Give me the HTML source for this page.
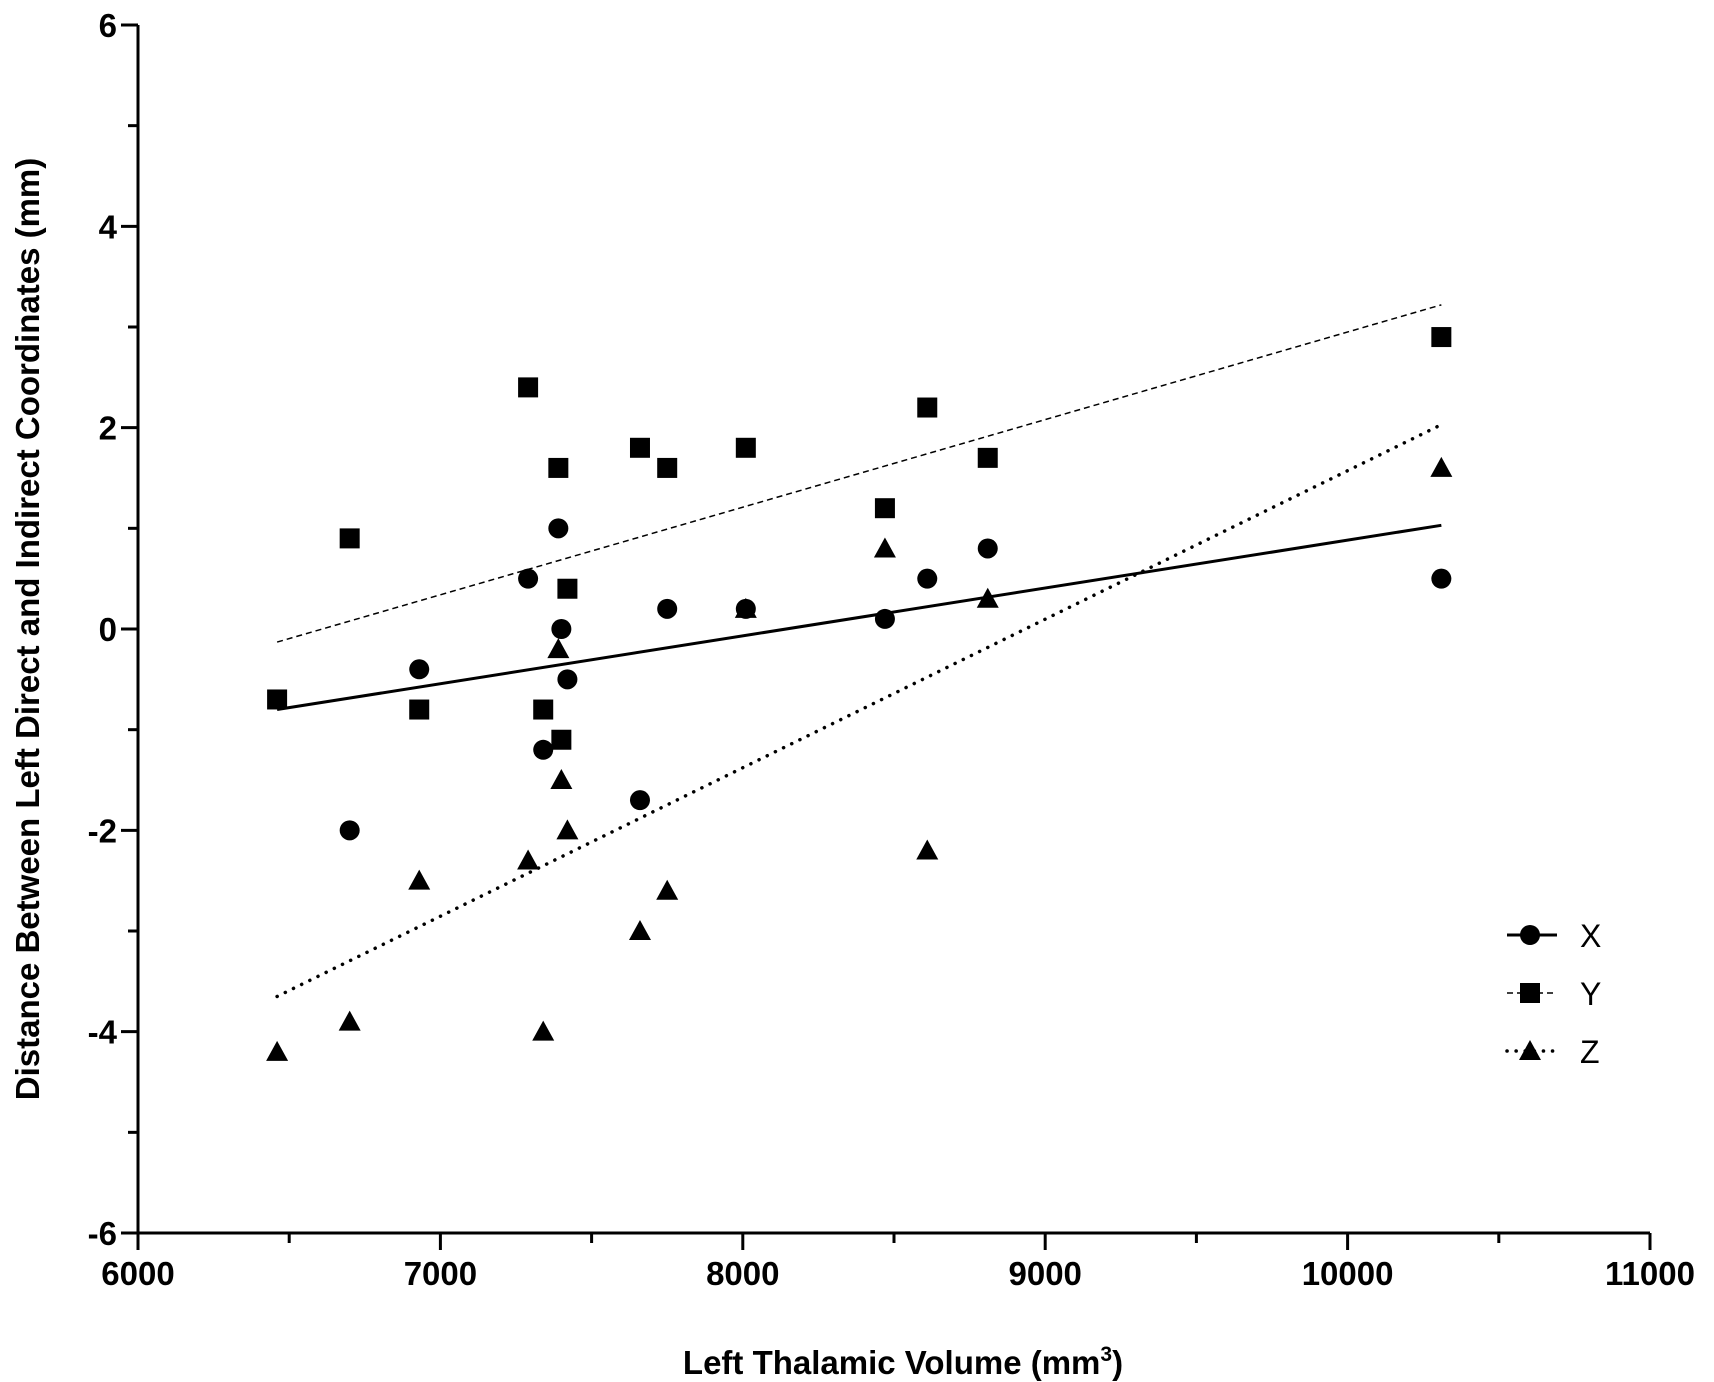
<!DOCTYPE html>
<html><head><meta charset="utf-8"><style>
html,body{margin:0;padding:0;background:#fff;}
svg{display:block;font-family:"Liberation Sans",Arial,sans-serif;font-weight:bold;}
</style></head><body>
<svg id="s" width="1714" height="1382" viewBox="0 0 1714 1382" xmlns="http://www.w3.org/2000/svg">
<text x="903" y="1374" font-size="33" text-anchor="middle">Left Thalamic Volume (mm<tspan font-size="21" dy="-13">3</tspan><tspan dy="13">)</tspan></text>
<text transform="translate(39,629) rotate(-90)" font-size="33" text-anchor="middle">Distance Between Left Direct and Indirect Coordinates (mm)</text>
</svg>
<script>
const s=document.getElementById('s');const NS='http://www.w3.org/2000/svg';
function X(v){return 138+(v-6000)*302.4/1000;}
function Y(v){return 629-v*100.67;}
function el(t,a,txt){const e=document.createElementNS(NS,t);for(const k in a)e.setAttribute(k,a[k]);if(txt!==undefined)e.textContent=txt;s.appendChild(e);return e;}
el('line',{x1:138,y1:Y(6),x2:138,y2:1235,stroke:'#000','stroke-width':3});
el('line',{x1:136,y1:1233,x2:1650,y2:1233,stroke:'#000','stroke-width':3});
for(let v=-6;v<=6;v++){const maj=v%2===0;el('line',{x1:maj?121:128,y1:Y(v),x2:138,y2:Y(v),stroke:'#000','stroke-width':3});
 if(maj)el('text',{x:117,y:Y(v)+12,'font-size':33,'text-anchor':'end'},String(v));}
for(let v=6000;v<=11000;v+=500){const maj=v%1000===0;el('line',{x1:X(v),y1:1233,x2:X(v),y2:maj?1250:1243,stroke:'#000','stroke-width':3});
 if(maj)el('text',{x:X(v),y:1285,'font-size':33,'text-anchor':'middle'},String(v));}
el('line',{x1:X(6460),y1:Y(-0.8),x2:X(10310),y2:Y(1.03),stroke:'#000','stroke-width':3});
el('line',{x1:X(6460),y1:Y(-0.13),x2:X(10310),y2:Y(3.22),stroke:'#000','stroke-width':1.5,'stroke-dasharray':'6,4'});
el('line',{x1:X(6460),y1:Y(-3.65),x2:X(10310),y2:Y(2.03),stroke:'#000','stroke-width':3.5,'stroke-dasharray':'0.1,9','stroke-linecap':'round'});
function circ(x,y){el('circle',{cx:x,cy:y,r:10,fill:'#000'});}
function sq(x,y){el('rect',{x:x-10,y:y-10,width:20,height:20,fill:'#000'});}
function tri(x,y){el('polygon',{points:`${x},${y-11} ${x-11},${y+9} ${x+11},${y+9}`,fill:'#000'});}
const Xd=[[6700,-2],[6930,-0.4],[7290,0.5],[7340,-1.2],[7390,1.0],[7400,0],[7420,-0.5],[7660,-1.7],[7750,0.2],[8010,0.2],[8470,0.1],[8610,0.5],[8810,0.8],[10310,0.5]];
const Yd=[[6460,-0.7],[6700,0.9],[6930,-0.8],[7290,2.4],[7340,-0.8],[7390,1.6],[7400,-1.1],[7420,0.4],[7660,1.8],[7750,1.6],[8010,1.8],[8470,1.2],[8610,2.2],[8810,1.7],[10310,2.9]];
const Zd=[[6460,-4.2],[6700,-3.9],[6930,-2.5],[7290,-2.3],[7340,-4.0],[7390,-0.2],[7400,-1.5],[7420,-2.0],[7660,-3.0],[7750,-2.6],[8010,0.2],[8470,0.8],[8610,-2.2],[8810,0.3],[10310,1.6]];
Zd.forEach(p=>tri(X(p[0]),Y(p[1])));Xd.forEach(p=>circ(X(p[0]),Y(p[1])));Yd.forEach(p=>sq(X(p[0]),Y(p[1])));
const lx=1507, mx=1530, tx=1580;
el('line',{x1:lx,y1:935,x2:lx+50,y2:935,stroke:'#000','stroke-width':3});circ(mx,935);
el('text',{x:tx,y:947,'font-size':32,'font-weight':'normal'},'X');
el('line',{x1:lx,y1:993,x2:lx+50,y2:993,stroke:'#000','stroke-width':1.5,'stroke-dasharray':'6,4'});sq(mx,993);
el('text',{x:tx,y:1005,'font-size':32,'font-weight':'normal'},'Y');
el('line',{x1:lx,y1:1051,x2:lx+50,y2:1051,stroke:'#000','stroke-width':3.5,'stroke-dasharray':'0.1,9','stroke-linecap':'round'});tri(mx,1051);
el('text',{x:tx,y:1063,'font-size':32,'font-weight':'normal'},'Z');
</script>
</body></html>
